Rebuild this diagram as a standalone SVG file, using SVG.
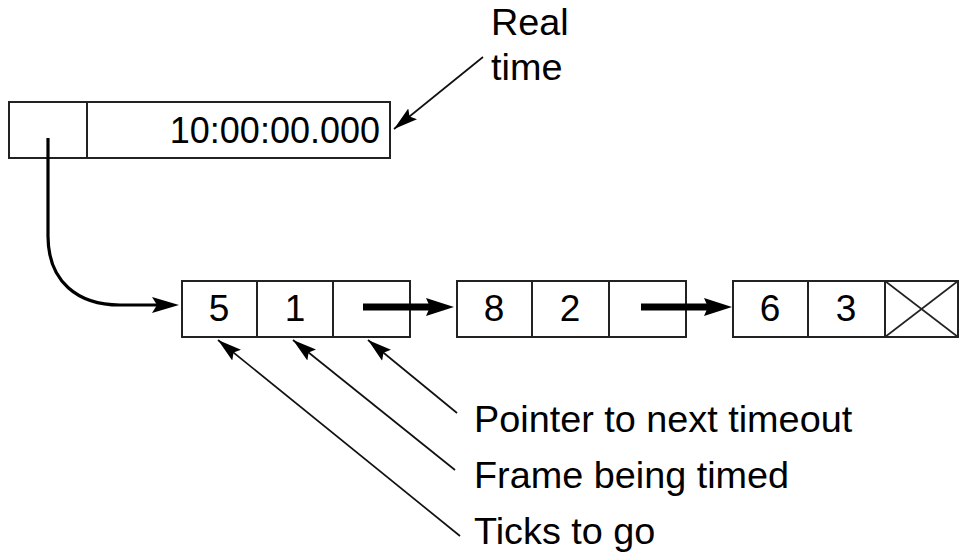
<svg xmlns="http://www.w3.org/2000/svg" width="959" height="555" viewBox="0 0 959 555">
<style>
.box{fill:#fff;stroke:#222;stroke-width:2}
.div{stroke:#222;stroke-width:2}
.t{font-family:"Liberation Sans",Arial,sans-serif;font-size:37.8px;fill:#000}
.n{font-family:"Liberation Sans",Arial,sans-serif;font-size:37px;fill:#000;text-anchor:middle}
.thin{stroke:#111;stroke-width:1.7;fill:none}
.thick{stroke:#000;stroke-width:7;fill:none}
.curve{stroke:#000;stroke-width:3.2;fill:none}
</style>
<defs>
<marker id="ah" markerUnits="userSpaceOnUse" markerWidth="24" markerHeight="16" refX="24" refY="8" orient="auto">
<path d="M0,1 L24,8 L0,15 L4,8 z" fill="#000"/>
</marker>
</defs>
<g id="realtime">
<rect class="box" x="9" y="102" width="381" height="56"/>
<line class="div" x1="87" y1="102" x2="87" y2="158"/>
<text class="t" x="380" y="143" text-anchor="end" style="font-size:36px">10:00:00.000</text>
</g>
<g id="real-time-label">
<text class="t" x="491" y="35">Real</text>
<text class="t" x="491" y="80">time</text>
</g>
<g id="node1">
<rect class="box" x="182" y="281" width="228" height="56"/>
<line class="div" x1="257" y1="281" x2="257" y2="337"/>
<line class="div" x1="333" y1="281" x2="333" y2="337"/>
<text class="n" x="219" y="321">5</text>
<text class="n" x="295" y="321">1</text>
</g>
<g id="node2">
<rect class="box" x="457" y="281" width="229" height="56"/>
<line class="div" x1="532" y1="281" x2="532" y2="337"/>
<line class="div" x1="609" y1="281" x2="609" y2="337"/>
<text class="n" x="494" y="321">8</text>
<text class="n" x="570" y="321">2</text>
</g>
<g id="node3">
<rect class="box" x="733" y="281" width="225" height="56"/>
<line class="div" x1="808" y1="281" x2="808" y2="337"/>
<line class="div" x1="885" y1="281" x2="885" y2="337"/>
<line class="div" x1="885" y1="281" x2="958" y2="337" style="stroke-width:1.6"/>
<line class="div" x1="885" y1="337" x2="958" y2="281" style="stroke-width:1.6"/>
<text class="n" x="770" y="321">6</text>
<text class="n" x="846" y="321">3</text>
</g>
<g id="labels">
<text class="t" x="474" y="432">Pointer to next timeout</text>
<text class="t" x="474" y="488">Frame being timed</text>
<text class="t" x="474" y="544">Ticks to go</text>
</g>
<g id="connectors">
<path class="curve" d="M48,138 V236 C48,282 78,305 120,305 H160"/>
<path d="M179,305 L152,297 L157,305 L152,313 z" fill="#000"/>
<line class="thick" x1="363" y1="307" x2="430" y2="307"/>
<path d="M454,307 L426,298 L430,307 L426,316 z" fill="#000"/>
<line class="thick" x1="641" y1="307" x2="708" y2="307"/>
<path d="M732,307 L704,298 L708,307 L704,316 z" fill="#000"/>
<line class="thin" x1="483" y1="57" x2="394" y2="129" marker-end="url(#ah)"/>
<line class="thin" x1="457" y1="413" x2="368" y2="340" marker-end="url(#ah)"/>
<line class="thin" x1="455" y1="470" x2="293" y2="340" marker-end="url(#ah)"/>
<line class="thin" x1="460" y1="536" x2="218" y2="340" marker-end="url(#ah)"/>
</g>
</svg>
